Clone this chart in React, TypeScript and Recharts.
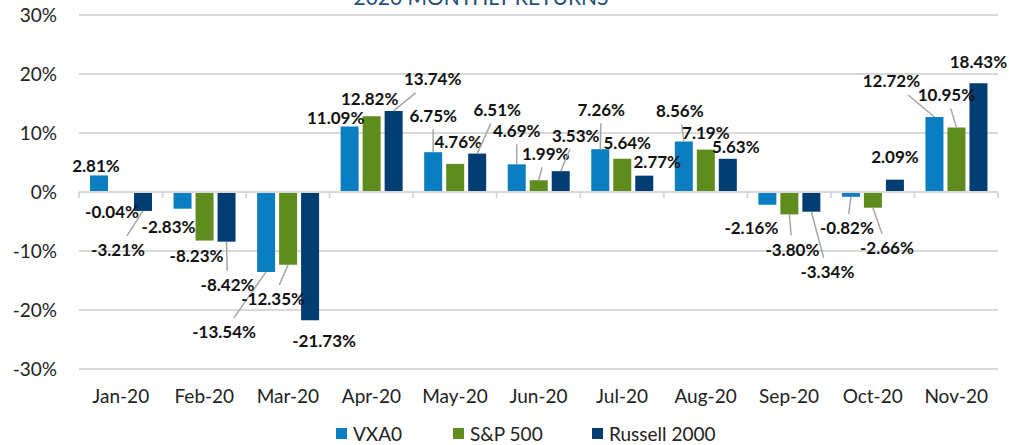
import React from 'react';
import {
    Bar,
    BarChart,
    CartesianGrid,
    LabelList,
    Legend,
    ReferenceLine,
    XAxis,
    YAxis,
} from 'recharts';

const months = ['Jan-20', 'Feb-20', 'Mar-20', 'Apr-20', 'May-20', 'Jun-20', 'Jul-20', 'Aug-20', 'Sep-20', 'Oct-20', 'Nov-20'];
const vxa0 = [2.81, -2.83, -13.54, 11.09, 6.75, 4.69, 7.26, 8.56, -2.16, -0.82, 12.72];
const sp500 = [-0.04, -8.23, -12.35, 12.82, 4.76, 1.99, 5.64, 7.19, -3.8, -2.66, 10.95];
const russell = [-3.21, -8.42, -21.73, 13.74, 6.51, 3.53, 2.77, 5.63, -3.34, 2.09, 18.43];
const yTicks = [-30, -20, -10, 0, 10, 20, 30];

const series = [
    { key: 'vxa0', name: 'VXA0', color: '#0B7DC1' },
    { key: 'sp500', name: 'S&P 500', color: '#5E8C1E' },
    { key: 'russell', name: 'Russell 2000', color: '#003D73' },
];

// where Excel dragged each data label: [dx, dy, has leader line], relative to the bar end
const labelMoves: Record<string, number[][]> = {
    vxa0: [[-3, -10, 0], [-14, 18, 0], [-42, 60, 1], [-14, -9, 0], [0, -37, 1], [0, -34, 1], [1, -40, 1], [-4, -31, 1], [-16, 23, 0], [-4, 31, 1], [-43, -36, 1]],
    sp500: [[-9, 19, 0], [-8, 15, 0], [-15, 34, 1], [-2, -18, 0], [3, -22, 0], [7, -27, 1], [5, -16, 0], [0, -17, 0], [3, 35, 1], [14, 40, 1], [-10, -33, 1]],
    russell: [[-25, 39, 1], [1, 43, 1], [14, 20, 0], [39, -32, 1], [20, -44, 1], [15, -36, 1], [13, -14, 0], [8, -12, 0], [16, 60, 1], [0, -23, 0], [0, -22, 0]],
};

const data = months.map((month, i) => ({
    month,
    vxa0: vxa0[i],
    sp500: sp500[i],
    russell: russell[i],
}));

const makeLabel = (key: string) => (props: any) => {
    const vb = props.viewBox || {};
    const x = props.x ?? vb.x;
    const y = props.y ?? vb.y;
    const width = props.width ?? vb.width;
    const height = props.height ?? vb.height;
    const value = Number(props.value);
    const move = labelMoves[key][props.index] || [0, 0, 0];
    const cx = x + width / 2;
    const endY = value >= 0 ? Math.min(y, y + height) : Math.max(y, y + height);
    const lx = cx + move[0];
    const ly = endY + move[1];
    let line = null;
    if (move[2]) {
        const t = Math.min(
            move[0] !== 0 ? 32 / Math.abs(move[0]) : 99,
            move[1] !== 0 ? 14 / Math.abs(move[1]) : 99,
        );
        line = (
            <line
                x1={cx}
                y1={endY}
                x2={lx - move[0] * t}
                y2={ly - move[1] * t}
                stroke="#A6A6A6"
                strokeWidth={1.5}
            />
        );
    }
    return (
        <g>
            {line}
            <text
                x={lx}
                y={ly}
                textAnchor="middle"
                dominantBaseline="central"
                fontSize={17}
                fontWeight="bold"
                fill="#111"
            >
                {value.toFixed(2)}%
            </text>
        </g>
    );
};

const ZeroLine = (props: any) => {
    const { x1, y1, x2 } = props;
    const step = (x2 - x1) / months.length;
    return (
        <g>
            <line x1={x1} y1={y1} x2={x2} y2={y1} stroke="#D9D9D9" strokeWidth={2} />
            {[...Array(months.length + 1)].map((_, i) => (
                <line key={i} x1={x1 + step * i} y1={y1} x2={x1 + step * i} y2={y1 + 6} stroke="#D9D9D9" strokeWidth={2} />
            ))}
        </g>
    );
};

const LegendRow = () => (
    <div style={{ height: 30, display: 'flex', alignItems: 'center', paddingTop: 6, paddingLeft: 336, boxSizing: 'border-box' }}>
        {series.map((s, i) => (
            <div key={s.key} style={{ display: 'flex', alignItems: 'center', width: i === 0 ? 117 : i === 1 ? 139 : 140 }}>
                <span style={{ width: 11, height: 11, background: s.color, marginRight: 6, display: 'inline-block' }} />
                <span style={{ fontSize: 19, color: '#222' }}>{s.name}</span>
            </div>
        ))}
    </div>
);

export default function App() {
    return (
        <div style={{ position: 'absolute', top: 0, left: 0, width: 1009, height: 445, fontFamily: 'Lato, sans-serif', background: '#fff' }}>
            <BarChart
                width={1009}
                height={445}
                data={data}
                margin={{ top: 15, right: 11, left: 0, bottom: 0 }}
                barSize={18}
                barGap={4}
            >
                <CartesianGrid vertical={false} stroke="#D9D9D9" strokeWidth={2} />
                <XAxis
                    dataKey="month"
                    axisLine={false}
                    tickLine={false}
                    tickSize={0}
                    tickMargin={21}
                    height={46}
                    interval={0}
                    tick={{ fontSize: 19, fill: '#222' }}
                />
                <YAxis
                    domain={[-30, 30]}
                    ticks={yTicks}
                    tickFormatter={(v: number) => `${v}%`}
                    axisLine={false}
                    tickLine={false}
                    tickSize={0}
                    tickMargin={22}
                    width={79}
                    tick={{ fontSize: 19, fill: '#222' }}
                />
                <ReferenceLine y={0} shape={<ZeroLine />} />
                {series.map((s) => (
                    <Bar key={s.key} dataKey={s.key} name={s.name} fill={s.color} isAnimationActive={false}>
                        <LabelList dataKey={s.key} content={makeLabel(s.key)} />
                    </Bar>
                ))}
                <Legend verticalAlign="bottom" content={<LegendRow />} wrapperStyle={{ left: 0, width: 1009 }} />
            </BarChart>
            <svg width={1009} height={24} style={{ position: 'absolute', top: 0, left: 0, pointerEvents: 'none' }}>
                <text x={481} y={5} textAnchor="middle" fontSize={21} fill="#1F4E79">
                    2020 MONTHLY RETURNS
                </text>
            </svg>
        </div>
    );
}
